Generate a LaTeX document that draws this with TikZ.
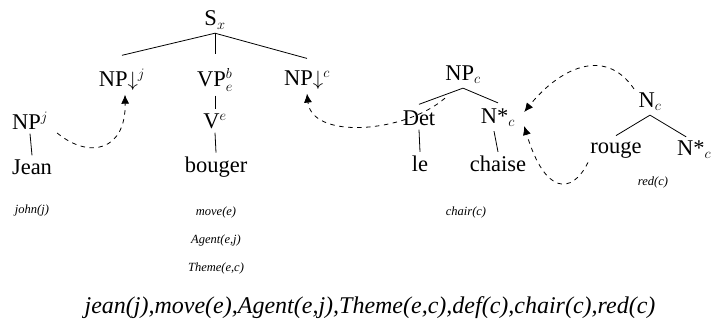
\documentclass[tikz,border=0pt]{standalone}
\usepackage{fontspec}
\setmainfont{Liberation Serif}
\usetikzlibrary{arrows.meta}
\begin{document}
\begin{tikzpicture}[x=1pt,y=-1pt,
  lab/.style={font=\fontsize{22.5}{26}\selectfont, inner xsep=1pt, inner ysep=4pt},
  sem/.style={font=\fontsize{12.5}{15}\selectfont\itshape, inner sep=1pt},
  tree/.style={line width=0.8pt},
  dep/.style={line width=0.8pt, dash pattern=on 4.5pt off 4.5pt, -{Latex[length=9pt,width=8pt]}}]
\useasboundingbox (0,0) rectangle (712,325);
% left elementary trees
\node[lab] (S) at (215,20) {S$_x$};
\node[lab] (NPj) at (122,80) {NP$\downarrow^j$};
\node[lab] (VP) at (215,80) {VP$^b_e$};
\node[lab] (NPdc) at (307,80) {NP$\downarrow^c$};
\node[lab] (NPjj) at (30,121) {NP$^j$};
\node[lab] (Jean) at (32,167) {Jean};
\node[lab] (V) at (215,121) {V$^e$};
\node[lab] (bouger) at (216,167) {bouger};
% NP tree
\node[lab] (NPC) at (463,75) {NP$_c$};
\node[lab] (Det) at (419,118) {Det};
\node[lab] (Nst) at (498,118) {N*$_c$};
\node[lab] (le) at (420,164) {le};
\node[lab] (chaise) at (498,164) {chaise};
% N tree
\node[lab] (Nc) at (650,102) {N$_c$};
\node[lab] (rouge) at (616,150) {rouge};
\node[lab, anchor=west] (Nst2) at (676,150) {N*$_c$};
% semantics
\node[sem] (sj) at (32,210) {john(j)};
\node[sem] (sm) at (216,212) {move(e)};
\node[sem] (sa) at (216,240) {Agent(e,j)};
\node[sem] (st) at (216,268) {Theme(e,c)};
\node[sem] (sc) at (466,212) {chair(c)};
\node[sem] (sr) at (653,182) {red(c)};
\node[font=\fontsize{24}{28}\selectfont\itshape, inner sep=1pt] (all) at (370,308) {jean(j),move(e),Agent(e,j),Theme(e,c),def(c),chair(c),red(c)};
% tree edges
\draw[tree] (S.south) -- ([yshift=10pt]NPj.north);
\draw[tree] (S.south) -- ([yshift=10pt]VP.north);
\draw[tree] (S.south) -- ([yshift=8pt]NPdc.north);
\draw[tree] (VP.south) -- (V.north);
\draw[tree] (V.south) -- (bouger.north);
\draw[tree] (NPjj.south) -- (Jean.north);
\draw[tree] (NPC.south) -- ([yshift=2pt]Det.north);
\draw[tree] (NPC.south) -- ([yshift=2pt]Nst.north);
\draw[tree] (Det.south) -- (le.north);
\draw[tree] ([xshift=-4pt]Nst.south) -- ([xshift=0pt]chaise.north);
\draw[tree] (Nc.south) -- ([yshift=2pt]rouge.north);
\draw[tree] (Nc.south) -- ([shift={(-8,0)}]Nst2.north);
% substitution / adjunction arrows
\draw[dep] ([shift={(8,12)}]NPjj.east) .. controls (90,160) and (126,150) .. ([shift={(3,0)}]NPj.south);
\draw[dep] ([shift={(-18,10)}]NPC.south) .. controls (405,133) and (312,140) .. (NPdc.south);
\draw[dep] ([shift={(-16,0)}]Nc.north) .. controls (604,45) and (558,70) .. ([shift={(8,-6)}]Nst.east);
\draw[dep] ([shift={(-28,0)}]rouge.south) .. controls (572,195) and (545,195) .. ([shift={(8,8)}]Nst.east);
\end{tikzpicture}
\end{document}
